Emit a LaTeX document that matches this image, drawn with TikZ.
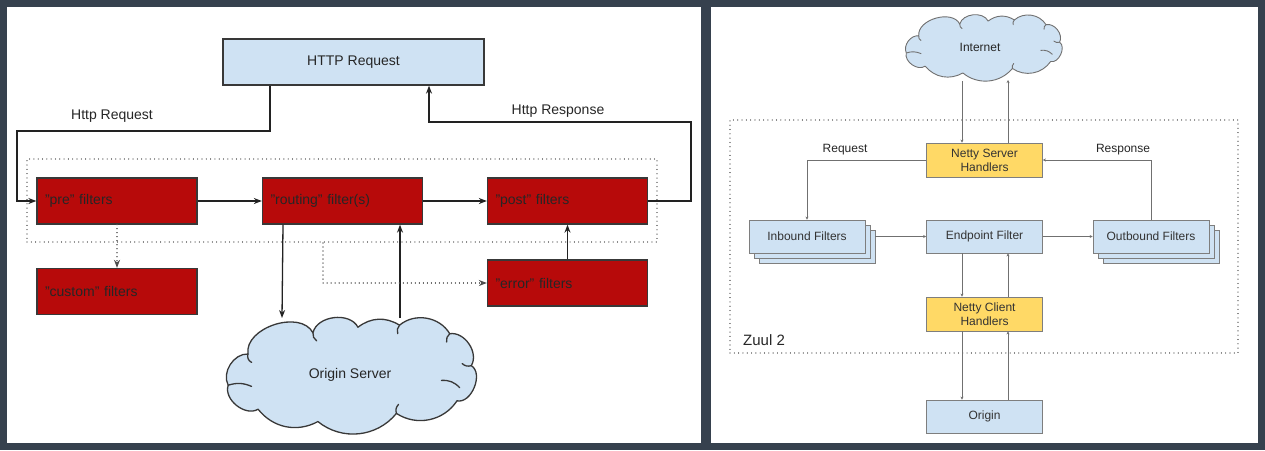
\documentclass[tikz,border=0pt]{standalone}
\usepackage{fontspec}
\setmainfont{Liberation Sans}
\usetikzlibrary{arrows.meta}
\definecolor{bgdark}{HTML}{36414E}
\definecolor{lblue}{HTML}{CFE2F3}
\definecolor{zred}{HTML}{B70A0A}
\definecolor{zyellow}{HTML}{FFD966}
\definecolor{dline}{HTML}{222222}
\definecolor{gline}{HTML}{707070}
\newcommand{\zcloudpath}{%
  (0.096,0.30) to[bend left=80] (0.346,0.123)
  to[bend left=70] (0.519,0.077)
  to[bend left=35] (0.679,0.06)
  to[bend left=50] (0.872,0.131)
  to[bend left=65] (0.955,0.397)
  to[bend left=80] (0.90,0.69)
  to[bend left=45] (0.667,0.795)
  to[bend left=45] (0.365,0.863)
  to[bend left=40] (0.135,0.76)
  to[bend left=70] (0.02,0.56)
  to[bend left=60] (0.096,0.30) -- cycle}
\newcommand{\zcloudcurls}{%
  (0.096,0.30) to[bend right=40] (0.11,0.37)
  (0.346,0.123) to[bend right=30] (0.36,0.19)
  (0.679,0.06) to[bend right=30] (0.672,0.13)
  (0.872,0.131) to[bend right=30] (0.86,0.20)
  (0.955,0.397) to[bend left=30] (0.92,0.38)
  (0.667,0.795) to[bend left=30] (0.675,0.72)
  (0.02,0.56) to[bend left=20] (0.11,0.57)
  (0.84,0.52) to[bend left=25] (0.91,0.58)}
\begin{document}
\begin{tikzpicture}[x=1pt,y=-1pt,
  lfont/.style={font=\fontsize{14}{16}\selectfont},
  rfont/.style={font=\fontsize{12}{14}\selectfont},
  bluebox/.style={draw=dline!90, line width=1.3pt, fill=lblue, inner sep=0pt, lfont, text=black!85},
  redbox/.style={draw=dline!90, line width=1.3pt, fill=zred, inner xsep=8pt, inner ysep=0pt,
     minimum width=160pt, minimum height=46pt, text width=144pt, align=left, lfont, text=black!85},
  rbox/.style={draw=gline!90, line width=0.8pt, fill=lblue, inner sep=0pt,
     minimum width=116pt, minimum height=33pt, align=center, rfont, text=black!80},
  ybox/.style={rbox, fill=zyellow, minimum height=34pt},
  dotbox/.style={draw=gline, line width=1.1pt, dash pattern=on 0.01pt off 4.3pt, line cap=round, inner sep=0pt},
  larr/.style={draw=dline, line width=1.3pt, -{Stealth[length=8pt,width=6pt]}},
  ldot/.style={draw=dline!80, line width=1.2pt, dash pattern=on 0.01pt off 4pt, line cap=round, -{Stealth[length=8pt,width=6pt]}},
  garr/.style={draw=gline, line width=0.8pt, -{Stealth[length=3pt,width=3pt]}},
  lab/.style={lfont, text=black!85, inner sep=0pt},
  rlab/.style={rfont, text=black!85, inner sep=0pt}
]
% background
\fill[bgdark] (0,0) rectangle (1265,450);
\fill[white] (7,7) rectangle (701,443);
\fill[white] (711,7) rectangle (1258,443);

% ---------------- left panel ----------------
\node[dotbox, minimum width=630pt, minimum height=83pt] (zone) at (342,200.5) {};
\node[bluebox, minimum width=261pt, minimum height=46pt] (http) at (353.5,62) {HTTP Request};
\node[redbox] (pre) at (117,201) {"pre" filters};
\node[redbox] (routing) at (342.5,201) {"routing" filter(s)};
\node[redbox] (post) at (567.5,201) {"post" filters};
\node[redbox] (custom) at (117,291.5) {"custom" filters};
\node[redbox] (error) at (567.5,283) {"error" filters};

\begin{scope}[shift={(223,318)}, x=260pt, y=-120pt]
  \draw[draw=dline!90, line width=1.3pt, fill=lblue, line join=round] \zcloudpath;
  \draw[draw=dline!90, line width=1.3pt, line cap=round] \zcloudcurls;
\end{scope}
\node[lab] (origin) at (350,375) {Origin Server};

\coordinate (hq) at (17,131);
\coordinate (hr) at (691,122);
\coordinate (o1) at (282,318);
\coordinate (o2) at (400,318);
\coordinate (d0) at (323,243);

\draw[larr] ([xshift=-83.5pt]http.south) |- (hq) |- (pre.west);
\draw[larr] (post.east) -| (hr) -| ([xshift=75.5pt]http.south);
\draw[larr] (pre) -- (routing);
\draw[larr] (routing) -- (post);
\draw[ldot] (pre.south) -- (custom.north);
\draw[larr] ([xshift=-59.5pt]routing.south) -- (o1);
\draw[larr] (o2) -- ([xshift=57.5pt]routing.south);
\draw[larr] (error.north) -- (post.south);
\draw[ldot] (d0) |- (error.west);

\node[lab] (lhq) at (112,116) {Http Request};
\node[lab] (lhr) at (558,111) {Http Response};

% ---------------- right panel ----------------
\node[dotbox, minimum width=508pt, minimum height=233pt] (zone2) at (984,236.5) {};
\begin{scope}[shift={(903,16)}, x=164pt, y=-66pt]
  \draw[draw=gline, line width=0.9pt, fill=lblue, line join=round] \zcloudpath;
  \draw[draw=gline, line width=0.9pt, line cap=round] \zcloudcurls;
\end{scope}
\node[rlab] (inet) at (980,47) {Internet};
\node[ybox] (nss) at (984.5,160) {Netty Server\\Handlers};
\node[rbox] (inb3) at (817,246.5) {};
\node[rbox] (inb2) at (812,241.5) {};
\node[rbox] (inb) at (807,236.5) {Inbound Filters};
\node[rbox] (endp) at (984.5,236.5) {Endpoint Filter};
\node[rbox] (outb3) at (1161,246.5) {};
\node[rbox] (outb2) at (1156,241.5) {};
\node[rbox] (outb) at (1151,236.5) {Outbound Filters};
\node[ybox] (nsc) at (984.5,314) {Netty Client\\Handlers};
\node[rbox] (orig) at (984.5,416.5) {Origin};
\node[anchor=west, font=\fontsize{15}{17}\selectfont, text=black!85, inner sep=0pt] (zuul) at (743,340) {Zuul 2};

\coordinate (i1) at (962,81);
\coordinate (i2) at (1008,80);
\draw[garr] (i1) -- (i1 |- nss.north);
\draw[garr] (i2 |- nss.north) -- (i2);
\draw[garr] (nss.west) -| (inb.north);
\draw[garr] (outb.north) |- (nss.east);
\draw[garr] (inb3.east |- inb.east) -- (endp.west);
\draw[garr] (endp.east) -- (outb.west);
\draw[garr] ([xshift=-22.5pt]endp.south) -- ([xshift=-22.5pt]nsc.north);
\draw[garr] ([xshift=23.5pt]nsc.north) -- ([xshift=23.5pt]endp.south);
\draw[garr] ([xshift=-22.5pt]nsc.south) -- ([xshift=-22.5pt]orig.north);
\draw[garr] ([xshift=23.5pt]orig.north) -- ([xshift=23.5pt]nsc.south);

\node[rlab] (lreq) at (845,150) {Request};
\node[rlab] (lresp) at (1123,150) {Response};
\end{tikzpicture}
\end{document}
